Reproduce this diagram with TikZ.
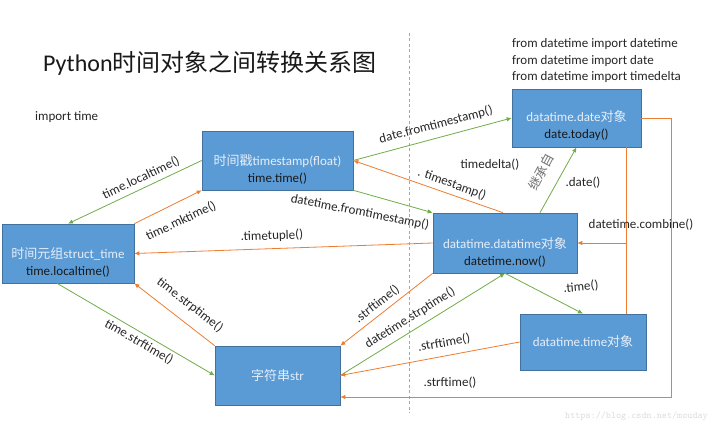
\documentclass[tikz,border=0pt]{standalone}
\usepackage{fontspec}
\setmainfont{Carlito}
\newfontfamily\cjk{Noto Sans CJK SC}
\usetikzlibrary{arrows.meta,calc}
\definecolor{boxfill}{HTML}{5B9BD5}
\definecolor{boxline}{HTML}{41719C}
\definecolor{grn}{HTML}{70AD47}
\definecolor{org}{HTML}{ED7D31}
\definecolor{lbltext}{HTML}{262626}
\definecolor{boxlight}{HTML}{E6EEF8}
\definecolor{wmark}{HTML}{DCDCDC}
\definecolor{divider}{HTML}{A6A6A6}
\begin{document}
\begin{tikzpicture}[x=1pt,y=-1pt,
  box/.style={draw=boxline, fill=boxfill, line width=0.6pt, inner sep=0pt},
  btxt/.style={align=center, text=black!90, inner sep=0pt, font=\fontsize{13}{17}\selectfont},
  ltxt/.style={text=boxlight, inner sep=0pt, font=\fontsize{13}{17}\selectfont},
  garr/.style={draw=grn, line width=0.8pt, -{Latex[length=5pt,width=4.5pt]}},
  oarr/.style={draw=org, line width=0.8pt, -{Latex[length=5pt,width=4.5pt]}},
  oline/.style={draw=org, line width=0.8pt},
  lbl/.style={text=lbltext, inner sep=0pt, font=\fontsize{13}{16}\selectfont},
  plain/.style={text=lbltext, inner sep=0pt, anchor=west, font=\fontsize{13}{16}\selectfont}]
\useasboundingbox (0,0) rectangle (721,427);
\fill[white] (0,0) rectangle (721,427);

% title and notes
\node[anchor=west, inner sep=0pt, text=black!90, font=\fontsize{24}{28}\selectfont] (title) at (43,63) {Python{\cjk 时间对象之间转换关系图}};
\node[plain] (imp) at (35,117) {import time};
\node[plain] (imp1) at (512,44) {from datetime import datetime};
\node[plain] (imp2) at (512,61) {from datetime import date};
\node[plain] (imp3) at (512,77) {from datetime import timedelta};

% divider
\draw[divider, line width=0.6pt, dash pattern=on 3pt off 2.5pt] (409,33) -- (409,413);

% boxes
\node[box, minimum width=151pt, minimum height=59pt] (ts) at (277.5,160.5) {};
\node[btxt] (tst) at ([yshift=-9pt]ts.center) {\textcolor{boxlight}{{\cjk 时间戳}timestamp(float)}\\time.time()};
\node[box, minimum width=132pt, minimum height=59pt] (st) at (68,253.5) {};
\node[btxt] (stt) at ([yshift=-9pt]st.center) {\textcolor{boxlight}{{\cjk 时间元组}struct\_time}\\time.localtime()};
\node[box, minimum width=125pt, minimum height=59pt] (str) at (277.5,375.5) {};
\node[ltxt] (strt) at (str.center) {{\cjk 字符串}str};
\node[box, minimum width=129pt, minimum height=58pt] (dd) at (576.5,118) {};
\node[btxt] (ddt) at ([yshift=-8pt]dd.center) {\textcolor{boxlight}{datatime.date{\cjk 对象}}\\date.today()};
\node[box, minimum width=144pt, minimum height=60pt] (dtm) at (505,243) {};
\node[btxt] (dtmt) at ([yshift=-9pt]dtm.center) {\textcolor{boxlight}{datatime.datatime{\cjk 对象}}\\datetime.now()};
\node[box, minimum width=126pt, minimum height=56pt] (tm) at (583,342) {};
\node[ltxt] (tmt) at (tm.center) {datatime.time{\cjk 对象}};

% connectors
\draw[garr] (ts.west) -- (st.north) node[lbl, rotate=25.5] at (141,178) {time.localtime()};
\draw[oarr] (st.north east) -- (ts.south west) node[lbl, rotate=25] at (181,221) {time.mktime()};
\draw[oarr] (dtm.west) -- (st.east) node[lbl, rotate=2] at (272,236) {.timetuple()};
\draw[oarr] (str.north west) -- (st.south east) node[lbl, rotate=-38] at (190,305) {time.strptime()};
\draw[garr] ([xshift=-11pt]st.south) -- (str.west) node[lbl, rotate=-30] at (139,342) {time.strftime()};
\draw[garr] (ts.east) -- (dd.west) node[lbl, rotate=14.5] at (436,125) {date.fromtimestamp()};
\draw[garr] (ts.south east) -- (dtm.north west) node[lbl, rotate=-11] at (360,212) {datetime.fromtimestamp()};
\draw[oarr] ([xshift=-2pt]dtm.north) -- (ts.east) node[lbl, rotate=-20] at (452,184) {. timestamp()};
\node[lbl] (td) at (490,165) {timedelta()};
\draw[garr] ([xshift=35pt]dtm.north) -- (dd.south)
  node[lbl] at (583,183) {.date()}
  node[lbl, text=black!55, rotate=62] at (541,172) {\cjk 继承自};
\coordinate (cx) at (626,0);
\draw[oline] (dd.south -| cx) -- (tm.north -| cx);
\draw[oarr] (cx |- dtm.east) -- (dtm.east) node[lbl] at (641,225) {datetime.combine()};
\coordinate (rx) at (671,397);
\draw[oarr] (dd.east) -| (rx) -- (rx -| str.east) node[lbl] at (450,383) {.strftime()};
\draw[garr] (dtm.south) -- (tm.north) node[lbl, rotate=5] at (581,287) {.time()};
\draw[oarr] (dtm.south west) -- (str.north east) node[lbl, rotate=38] at (377,304) {.strftime()};
\draw[garr] (str.east) -- (dtm.south) node[lbl, rotate=32] at (410,318) {datetime.strptime()};
\draw[oarr] (tm.west) -- (str.east) node[lbl, rotate=10] at (444,343) {.strftime()};

% watermark
\node[anchor=west, inner sep=0pt, text=wmark, font=\ttfamily\fontsize{9.7}{10}\selectfont] (wm) at (565,416) {https://blog.csdn.net/mouday};
\end{tikzpicture}
\end{document}
